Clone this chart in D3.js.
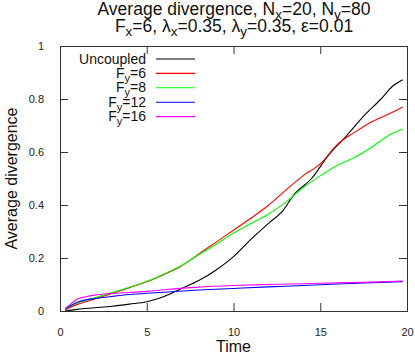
<!DOCTYPE html>
<html>
<head>
<meta charset="utf-8">
<script src="https://cdn.jsdelivr.net/npm/d3@7"></script>
<style>
  body { margin: 0; background: #fff; }
  text { font-family: "Liberation Sans", Arial, sans-serif; }
</style>
</head>
<body>
<svg class="chart"></svg>
<script>
// time samples and average divergence per coupling
const tUncoupled = [0.3, 1, 2, 3, 4, 5, 6, 7, 8, 9, 10, 11, 12, 12.8, 13.5, 14.5, 15.5, 16.5, 17.5, 18.5, 19.2, 19.75];
const uncoupled  = [0, 0.006, 0.012, 0.018, 0.026, 0.035, 0.055, 0.085, 0.115, 0.155, 0.205, 0.27, 0.33, 0.375, 0.44, 0.5, 0.59, 0.66, 0.735, 0.8, 0.85, 0.873];

const tMid = [0.3, 1, 2, 3, 4, 5, 6, 7, 8, 9, 10, 11, 12, 13, 14, 15, 16, 17, 18, 19, 19.75];
const fy6  = [0.005, 0.025, 0.045, 0.066, 0.088, 0.11, 0.138, 0.17, 0.215, 0.26, 0.305, 0.35, 0.398, 0.455, 0.51, 0.555, 0.63, 0.675, 0.715, 0.745, 0.77];
const fy8  = [0.008, 0.03, 0.05, 0.07, 0.09, 0.112, 0.14, 0.172, 0.212, 0.252, 0.294, 0.33, 0.365, 0.41, 0.465, 0.51, 0.55, 0.58, 0.62, 0.665, 0.687];

const tLow = [0.3, 0.6, 1, 1.5, 2, 3, 4, 5, 6, 8, 10, 12, 14, 16, 18, 19.75];
const fy12 = [0.008, 0.02, 0.033, 0.042, 0.047, 0.055, 0.062, 0.067, 0.071, 0.079, 0.085, 0.091, 0.096, 0.102, 0.107, 0.111];
const fy16 = [0.01, 0.025, 0.045, 0.054, 0.06, 0.066, 0.07, 0.074, 0.08, 0.09, 0.096, 0.1, 0.103, 0.106, 0.109, 0.113];

const xTicks = [0, 5, 10, 15, 20];
const yTicks = [0, 0.2, 0.4, 0.6, 0.8, 1];

const series = [
  {name: "Uncoupled", sub: null, t: tUncoupled, v: uncoupled, color: "#000000"},
  {name: "F", sub: "y", rest: "=6", t: tMid, v: fy6, color: "#ff0000"},
  {name: "F", sub: "y", rest: "=8", t: tMid, v: fy8, color: "#00ff00"},
  {name: "F", sub: "y", rest: "=12", t: tLow, v: fy12, color: "#0000ff"},
  {name: "F", sub: "y", rest: "=16", t: tLow, v: fy16, color: "#ff00ff"}
];

const W = 415, H = 354;
const margin = {top: 46, right: 8, bottom: 43, left: 60};
const width = W - margin.left - margin.right;
const height = H - margin.top - margin.bottom;

const x = d3.scaleLinear().domain([0, 20]).range([0, width]);
const y = d3.scaleLinear().domain([0, 1]).range([height, 0]);

const root = d3.select(".chart").attr("width", W).attr("height", H);
const svg = root.append("g")
    .attr("transform", "translate(" + margin.left + "," + margin.top + ")");

const frame = "#333";
const fmt = d => d === 0 ? "0" : d === 1 ? "1" : String(d);

// axes with inward ticks, mirrored
svg.append("g")
    .attr("transform", "translate(0," + height + ")")
    .call(d3.axisBottom(x).tickValues(xTicks).tickSize(-8).tickPadding(17).tickFormat(fmt));
svg.append("g")
    .call(d3.axisTop(x).tickValues(xTicks).tickSize(-8).tickFormat(""));
svg.append("g")
    .call(d3.axisLeft(y).tickValues(yTicks).tickSize(-8).tickPadding(16).tickFormat(fmt));
svg.append("g")
    .attr("transform", "translate(" + width + ",0)")
    .call(d3.axisRight(y).tickValues(yTicks).tickSize(-8).tickFormat(""));

svg.selectAll(".domain").attr("stroke", frame);
svg.selectAll(".tick line").attr("stroke", frame);
svg.selectAll(".tick text")
    .attr("fill", "#222")
    .style("font-family", "'Liberation Sans', Arial, sans-serif")
    .style("font-size", "11px");

// curves
const line = d3.line()
    .x(d => x(d[0]))
    .y(d => y(d[1]))
    .curve(d3.curveMonotoneX);

const plot = svg.append("g");
series.forEach(s => {
  plot.append("path")
      .datum(s.t.map((t, i) => [t, s.v[i]]))
      .attr("fill", "none")
      .attr("stroke", s.color)
      .attr("stroke-width", 1.1)
      .attr("d", line);
});

// legend
const legend = root.append("g").selectAll("g")
    .data(series)
  .enter().append("g")
    .attr("transform", (d, i) => "translate(0," + (59 + i * 14.4) + ")");

legend.append("line")
    .attr("x1", 156).attr("x2", 195)
    .attr("stroke", d => d.color)
    .attr("stroke-width", 1.1);

const lt = legend.append("text")
    .attr("x", 146)
    .attr("y", 4.5)
    .attr("text-anchor", "end")
    .style("font-size", "14px")
    .attr("fill", "#111");
lt.append("tspan").text(d => d.name);
lt.filter(d => d.sub).append("tspan").attr("dy", 4).style("font-size", "11px").text(d => d.sub);
lt.filter(d => d.sub).append("tspan").attr("dy", -4).text(d => d.rest);

// title: pieces of [text, isSubscript]
const title1 = [["Average divergence, N", 0], ["x", 1], ["=20, N", 0], ["y", 1], ["=80", 0]];
const title2 = [["F", 0], ["x", 1], ["=6, \u03bb", 0], ["x", 1], ["=0.35, \u03bb", 0], ["y", 1], ["=0.35, \u03b5=0.01", 0]];

[[title1, 15], [title2, 31.5]].forEach(([parts, yy]) => {
  const t = root.append("text")
      .attr("x", 234)
      .attr("y", yy)
      .attr("text-anchor", "middle")
      .style("font-size", "17.5px")
      .attr("fill", "#111");
  let shift = 0;
  parts.forEach(p => {
    const target = p[1] ? 4 : 0;
    t.append("tspan")
        .attr("dy", target - shift)
        .style("font-size", p[1] ? "13.5px" : "17.5px")
        .text(p[0]);
    shift = target;
  });
});

// axis labels
root.append("text")
    .attr("x", margin.left + width / 2)
    .attr("y", 352)
    .attr("text-anchor", "middle")
    .style("font-size", "16px")
    .attr("fill", "#111")
    .text("Time");

root.append("text")
    .attr("transform", "translate(17," + (margin.top + height / 2) + ") rotate(-90)")
    .attr("text-anchor", "middle")
    .style("font-size", "16px")
    .attr("fill", "#111")
    .text("Average divergence");
</script>
</body>
</html>
